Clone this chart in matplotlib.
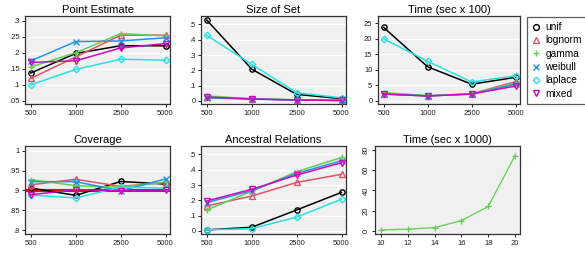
import numpy as np
import matplotlib
matplotlib.use("Agg")
import matplotlib.pyplot as plt

plt.rcParams["font.family"] = ["Liberation Sans", "DejaVu Sans"]

sizes = ["500", "1000", "2500", "5000"]
dists = ["unif", "lognorm", "gamma", "weibull", "laplace", "mixed"]
colors = ["black", "#DF536B", "#61D04F", "#2297E6", "#28E2E5", "#CD0BBC"]
markers = ["o", "^", "+", "x", "D", "v"]

# values per distribution, at n = 500, 1000, 2500, 5000
point_est = {
    "unif":    [0.137, 0.198, 0.222, 0.222],
    "lognorm": [0.120, 0.187, 0.255, 0.255],
    "gamma":   [0.156, 0.200, 0.260, 0.253],
    "weibull": [0.175, 0.235, 0.237, 0.247],
    "laplace": [0.100, 0.148, 0.180, 0.177],
    "mixed":   [0.170, 0.175, 0.215, 0.229],
}
set_size = {
    "unif":    [0.528, 0.208, 0.043, 0.015],
    "lognorm": [0.028, 0.013, 0.007, 0.003],
    "gamma":   [0.033, 0.014, 0.007, 0.003],
    "weibull": [0.020, 0.012, 0.006, 0.003],
    "laplace": [0.428, 0.239, 0.054, 0.020],
    "mixed":   [0.025, 0.013, 0.006, 0.003],
}
time100 = {
    "unif":    [23.7, 11.0, 5.4, 7.6],
    "lognorm": [2.3, 1.6, 2.3, 6.2],
    "gamma":   [2.7, 1.7, 2.3, 5.7],
    "weibull": [2.2, 1.6, 2.2, 5.4],
    "laplace": [20.0, 12.8, 6.1, 8.1],
    "mixed":   [2.2, 1.6, 2.2, 4.8],
}
coverage = {
    "unif":    [0.906, 0.8875, 0.9225, 0.916],
    "lognorm": [0.914, 0.928, 0.910, 0.920],
    "gamma":   [0.927, 0.912, 0.908, 0.921],
    "weibull": [0.922, 0.922, 0.899, 0.929],
    "laplace": [0.888, 0.881, 0.908, 0.906],
    "mixed":   [0.889, 0.902, 0.899, 0.900],
}
ancestral = {
    "unif":    [0.007, 0.024, 0.137, 0.252],
    "lognorm": [0.163, 0.228, 0.317, 0.370],
    "gamma":   [0.137, 0.260, 0.387, 0.480],
    "weibull": [0.185, 0.263, 0.376, 0.459],
    "laplace": [0.007, 0.015, 0.090, 0.207],
    "mixed":   [0.196, 0.272, 0.365, 0.446],
}
big_x = [10, 12, 14, 16, 18, 20]
big_time = [0.7, 1.5, 3.0, 10.0, 24.0, 74.5]

W, H = 585, 260
fig = plt.figure(figsize=(W / 100, H / 100), dpi=100)


def add_ax(left, top, right, bottom):
    return fig.add_axes([left / W, 1 - bottom / H, (right - left) / W, (bottom - top) / H])


def style(ax, title, yticks, ylabels, ylim, grid=True):
    ax.set_facecolor("#f0f0f0")
    for s in ax.spines.values():
        s.set_color("#333333")
        s.set_linewidth(0.9)
    ax.set_title(title, fontsize=8, pad=2)
    ax.set_yticks(yticks)
    ax.set_yticklabels(ylabels)
    ax.set_ylim(*ylim)
    ax.tick_params(labelsize=5.5, length=2.5, width=0.7, pad=1.5, colors="#222222")
    if grid:
        for y in yticks:
            ax.axhline(y, color="white", lw=1.0, zorder=0.5)


def draw_panel(ax, data, title, yticks, ylabels, ylim):
    style(ax, title, yticks, ylabels, ylim)
    x = np.arange(len(sizes))
    for d, c, m in zip(dists, colors, markers):
        ms = 3.3 if m == "D" else 3.8
        ax.plot(x, data[d], color=c, lw=1.1, marker=m, ms=ms,
                mfc="none", mec=c, mew=1.0, zorder=3)
    ax.set_xticks(x)
    ax.set_xticklabels(sizes)
    ax.set_xlim(-0.13, 3.1)


ax1 = add_ax(25, 16, 170, 104)
draw_panel(ax1, point_est, "Point Estimate",
           [0.05, 0.1, 0.15, 0.2, 0.25, 0.3], [".05", ".1", ".15", ".2", ".25", ".3"],
           (0.04, 0.315))

ax2 = add_ax(201, 16, 346, 104)
draw_panel(ax2, set_size, "Size of Set",
           [0, 0.1, 0.2, 0.3, 0.4, 0.5], ["0", ".1", ".2", ".3", ".4", ".5"],
           (-0.02, 0.555))

ax3 = add_ax(378, 16, 520, 104)
draw_panel(ax3, time100, "Time (sec x 100)",
           [0, 5, 10, 15, 20, 25], ["0", "5", "10", "15", "20", "25"],
           (-1, 27.4))

ax4 = add_ax(25, 146, 170, 234)
ax4.axhline(0.9, color="red", lw=2.2, zorder=2)
draw_panel(ax4, coverage, "Coverage",
           [0.8, 0.85, 0.9, 0.95, 1.0], [".8", ".85", ".9", ".95", "1"],
           (0.79, 1.012))

ax5 = add_ax(201, 146, 346, 234)
draw_panel(ax5, ancestral, "Ancestral Relations",
           [0, 0.1, 0.2, 0.3, 0.4, 0.5], ["0", ".1", ".2", ".3", ".4", ".5"],
           (-0.02, 0.555))

ax6 = add_ax(375, 146, 520, 234)
style(ax6, "Time (sec x 1000)", [0, 20, 40, 60, 80], ["0", "20", "40", "60", "80"],
      (-3.3, 84), grid=False)
ax6.plot(big_x, big_time, color="#61D04F", lw=0.9, marker="+", ms=5, mew=0.9)
ax6.set_xticks(big_x)
ax6.set_xlim(9.55, 20.37)
for lab in ax6.get_yticklabels():
    lab.set_rotation(90)
    lab.set_va("center")

# legend to the right of the top row
handles = [plt.Line2D([], [], ls="none", marker=m, color=c, mfc="none", mec=c,
                      ms=(3.3 if m == "D" else 4.2), mew=1.0)
           for c, m in zip(colors, markers)]
leg = fig.legend(handles, dists, loc="upper left",
                 bbox_to_anchor=(527 / W, 1 - 17 / H), fontsize=7.3,
                 frameon=True, fancybox=False, handlelength=0.8,
                 handletextpad=0.5, borderpad=0.5, labelspacing=0.33,
                 borderaxespad=0)
leg.get_frame().set_edgecolor("#333333")
leg.get_frame().set_linewidth(0.9)

fig.savefig("out.png", dpi=100)
